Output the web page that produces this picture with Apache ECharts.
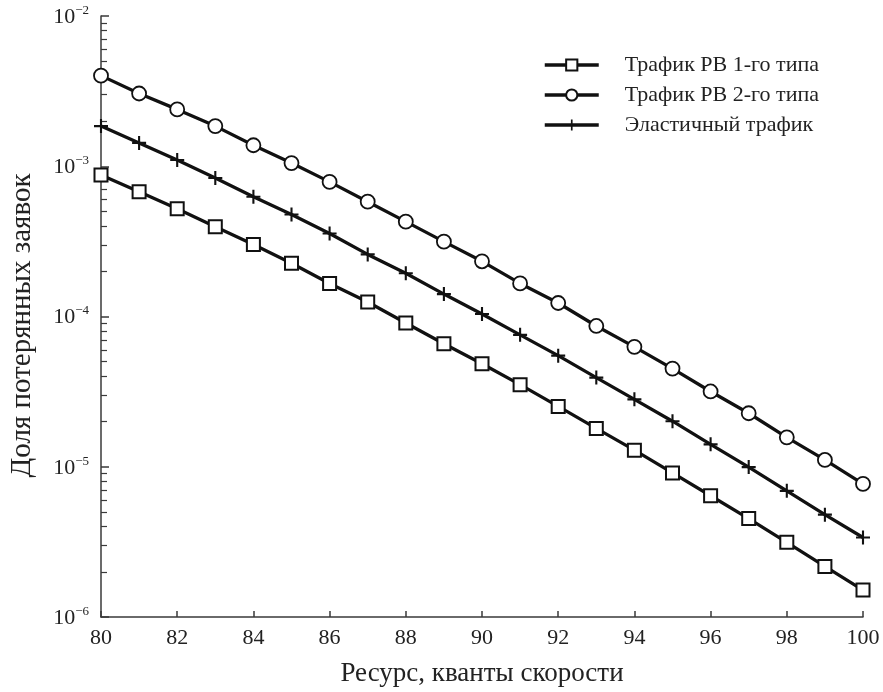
<!DOCTYPE html>
<html>
<head>
<meta charset="utf-8">
<script src="https://cdn.jsdelivr.net/npm/echarts@6/dist/echarts.min.js"></script>
<style>html,body{margin:0;padding:0;background:#fff;}#c{width:883px;height:692px;}</style>
</head>
<body>
<div id="c"></div>
<script>
var xValues = [80,81,82,83,84,85,86,87,88,89,90,91,92,93,94,95,96,97,98,99,100];
var type1 = [8.75e-4,6.76e-4,5.22e-4,3.96e-4,3.01e-4,2.26e-4,1.66e-4,1.25e-4,9.06e-5,6.58e-5,4.85e-5,3.52e-5,2.52e-5,1.80e-5,1.29e-5,9.1e-6,6.41e-6,4.52e-6,3.14e-6,2.17e-6,1.51e-6];
var type2 = [4.01e-3,3.05e-3,2.39e-3,1.85e-3,1.38e-3,1.05e-3,7.87e-4,5.81e-4,4.28e-4,3.15e-4,2.33e-4,1.66e-4,1.23e-4,8.65e-5,6.28e-5,4.5e-5,3.17e-5,2.27e-5,1.57e-5,1.11e-5,7.69e-6];
var elastic = [1.85e-3,1.43e-3,1.10e-3,8.36e-4,6.26e-4,4.77e-4,3.57e-4,2.59e-4,1.94e-4,1.41e-4,1.04e-4,7.55e-5,5.49e-5,3.92e-5,2.81e-5,2.01e-5,1.41e-5,9.95e-6,6.91e-6,4.80e-6,3.38e-6];
var seriesNames = ['Трафик РВ 1-го типа','Трафик РВ 2-го типа','Эластичный трафик'];
var yMajorTicks = [1e-6,1e-5,1e-4,1e-3,1e-2];
var xTicks = [80,82,84,86,88,90,92,94,96,98,100];
var xTitle = 'Ресурс, кванты скорости';
var yTitle = 'Доля потерянных заявок';

var yMinorTicks = [];
for (var d = 0; d < yMajorTicks.length - 1; d++) {
  for (var m = 2; m <= 9; m++) yMinorTicks.push(+(yMajorTicks[d] * m).toPrecision(3));
}
function pairs(ys){ return xValues.map(function(x,i){ return [x, ys[i]]; }); }

var FONT = '"Liberation Serif","DejaVu Serif",serif';
var AX = '#3a3a3a';
var LINE = '#111';
var TXT = '#222';
var plusPath = 'path://M8.5,0h3v8.5h8.5v3h-8.5v8.5h-3v-8.5h-8.5v-3h8.5z';

var chart = echarts.init(document.getElementById('c'), null, {renderer:'canvas'});
chart.setOption({
  animation:false,
  backgroundColor:'#fff',
  grid: {left:97, right:20, top:16, bottom:71},
  legend: {
    orient:'vertical', left:538, top:49, itemWidth:54, itemHeight:14, itemGap:8,
    data: seriesNames,
    lineStyle:{width:3.5},
    textStyle:{fontFamily:FONT, fontSize:22, color:TXT, padding:[0,0,0,21]},
    selectedMode:false
  },
  xAxis: {
    type:'value', min:80, max:100, interval:2,
    name:xTitle, nameLocation:'middle', nameGap:43,
    nameTextStyle:{fontFamily:FONT, fontSize:27, color:TXT},
    axisLine:{show:true, lineStyle:{color:AX, width:1.5}},
    axisTick:{show:true, inside:true, length:6, lineStyle:{color:AX, width:1.5}, customValues: xTicks},
    axisLabel:{fontFamily:FONT, fontSize:22, color:TXT, margin:10, customValues: xTicks},
    splitLine:{show:false}
  },
  yAxis: [{
    type:'log', logBase:10, min:1e-6, max:1e-2,
    name:yTitle, nameLocation:'middle', nameGap:64, nameRotate:90,
    nameTextStyle:{fontFamily:FONT, fontSize:29, color:TXT, padding:[0,18,0,0]},
    axisLine:{show:true, lineStyle:{color:AX, width:1.5}},
    axisTick:{show:true, inside:true, length:8, lineStyle:{color:AX, width:1.5}, customValues: yMajorTicks},
    axisLabel:{
      customValues: yMajorTicks, margin:12,
      formatter:function(v){ var e = Math.round(Math.log10(v)); return '{b|10}{s|\u2212' + Math.abs(e) + '}'; },
      rich:{ b:{fontFamily:FONT, fontSize:22, color:TXT, verticalAlign:'bottom'},
             s:{fontFamily:FONT, fontSize:13, color:TXT, verticalAlign:'top', padding:[0,0,11,0]} }
    },
    splitLine:{show:false}
  },{
    type:'log', logBase:10, min:1e-6, max:1e-2, position:'left',
    axisLine:{show:false},
    axisTick:{show:true, inside:true, length:6, lineStyle:{color:AX, width:1.2}, customValues: yMinorTicks},
    axisLabel:{show:false},
    splitLine:{show:false}
  }],
  series: [
    {name:seriesNames[0], type:'line', data:pairs(type1), symbol:'rect', symbolSize:13,
     lineStyle:{color:LINE, width:3.3}, itemStyle:{color:'#fff', borderColor:LINE, borderWidth:2}, z:3},
    {name:seriesNames[1], type:'line', data:pairs(type2), symbol:'circle', symbolSize:14,
     lineStyle:{color:LINE, width:3.3}, itemStyle:{color:'#fff', borderColor:LINE, borderWidth:1.8}, z:3},
    {name:seriesNames[2], type:'line', data:pairs(elastic), symbol:plusPath, symbolSize:14,
     lineStyle:{color:LINE, width:3.3}, itemStyle:{color:LINE, borderWidth:0}, z:3}
  ]
});
</script>
</body>
</html>
